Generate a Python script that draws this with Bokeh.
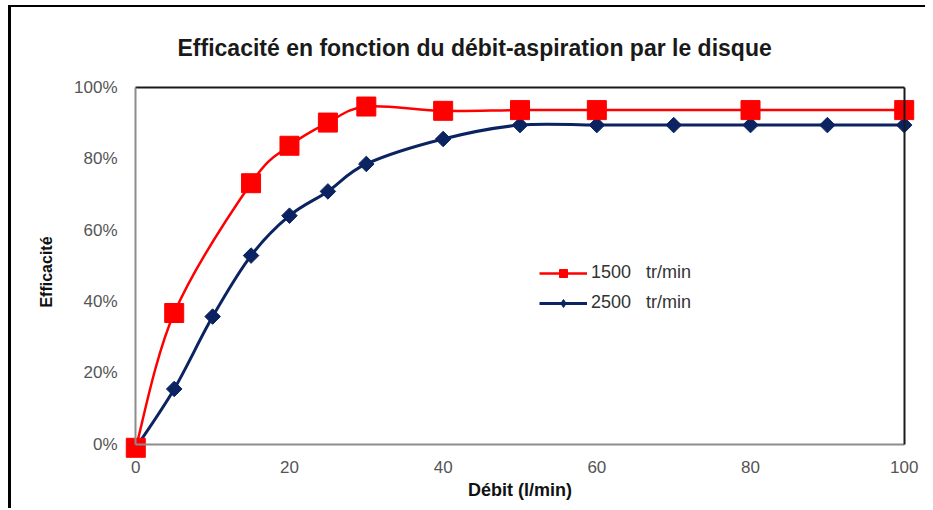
import numpy as np
from bokeh.plotting import figure
from bokeh.models import (Range1d, LinearAxis, FixedTicker, PrintfTickFormatter,
                          Legend, LegendItem, ColumnDataSource)
from bokeh.embed import file_html
from bokeh.resources import INLINE

# ---------------- data ----------------
title_text = "Efficacité en fonction du débit-aspiration par le disque"
x_label = "Débit (l/min)"
y_label = "Efficacité"
x_ticks = [0, 20, 40, 60, 80, 100]
y_ticks = [0, 20, 40, 60, 80, 100]

debit_1500 = [0, 5, 15, 20, 25, 30, 40, 50, 60, 80, 100]
eff_1500 = [-1, 36.8, 73.2, 83.7, 90.2, 94.7, 93.5, 93.7, 93.7, 93.7, 93.7]

debit_2500 = [0, 5, 10, 15, 20, 25, 30, 40, 50, 60, 70, 80, 90, 100]
eff_2500 = [-1, 15.5, 35.8, 52.9, 64.1, 70.9, 78.6, 85.6, 89.5, 89.5, 89.5, 89.5, 89.5, 89.5]

legend_labels = ["1500\u00a0\u00a0\u00a0tr/min", "2500\u00a0\u00a0\u00a0tr/min"]

RED = "#ff0000"
BLUE = "#0b2361"
FONT = "Liberation Sans"


def smooth_segments(xs, ys):
    """Cubic Bezier segments through the points (Catmull-Rom style smoothing)."""
    x = np.asarray(xs, float)
    y = np.asarray(ys, float)
    n = len(x)
    px = np.concatenate([[x[0]], x, [x[-1]]])
    py = np.concatenate([[y[0]], y, [y[-1]]])
    return dict(
        x0=x[:-1], y0=y[:-1], x1=x[1:], y1=y[1:],
        cx0=x[:-1] + (px[2:n + 1] - px[0:n - 1]) / 6.0,
        cy0=y[:-1] + (py[2:n + 1] - py[0:n - 1]) / 6.0,
        cx1=x[1:] - (px[3:n + 2] - px[1:n]) / 6.0,
        cy1=y[1:] - (py[3:n + 2] - py[1:n]) / 6.0,
    )


p = figure(frame_width=793, frame_height=373,
           x_range=Range1d(-1.6, 101.6), y_range=Range1d(-4, 100.6),
           output_backend="svg", toolbar_location=None,
           x_axis_location=None, y_axis_location=None,
           min_border_left=112, min_border_right=9,
           min_border_top=78, min_border_bottom=50,
           background_fill_color="white", border_fill_color="white")
p.styles = {"border-left": "3px solid black", "border-top": "2px solid black",
            "margin-left": "8px", "margin-top": "5px"}
p.outline_line_color = None
p.grid.grid_line_color = None

# title
p.title.text = title_text
p.title.text_font = FONT
p.title.text_font_size = "23px"
p.title.text_font_style = "bold"
p.title.text_color = "#1a1a1a"
p.title.align = "left"
p.title.offset = 54
p.title.standoff = 49

# label axes (at frame edges, no line)
xaxis = LinearAxis(ticker=FixedTicker(ticks=x_ticks), axis_label=x_label)
yaxis = LinearAxis(ticker=FixedTicker(ticks=y_ticks),
                   formatter=PrintfTickFormatter(format="%d%%"), axis_label=y_label)
for ax in (xaxis, yaxis):
    ax.axis_line_color = None
    ax.major_tick_line_color = None
    ax.minor_tick_line_color = None
    ax.major_tick_out = 0
    ax.major_tick_in = 0
    ax.major_label_text_font = FONT
    ax.major_label_text_font_size = "17px"
    ax.major_label_text_color = "#555555"
    ax.axis_label_text_font = FONT
    ax.axis_label_text_font_style = "bold"
    ax.axis_label_text_color = "#111111"
xaxis.major_label_standoff = 2
xaxis.axis_label_standoff = 4
xaxis.axis_label_text_font_size = "18px"
yaxis.major_label_standoff = 6
yaxis.axis_label_standoff = 16
yaxis.axis_label_text_font_size = "16px"
p.add_layout(xaxis, "below")
p.add_layout(yaxis, "left")

# lines of the plot box: grey axes through the origin, black top and right
AX_GRAY = "#8c8c8c"
box = [
    (LinearAxis(fixed_location=y_ticks[0], bounds=(x_ticks[0], x_ticks[-1])), "below", AX_GRAY),
    (LinearAxis(fixed_location=x_ticks[0], bounds=(y_ticks[0], y_ticks[-1])), "left", AX_GRAY),
    (LinearAxis(fixed_location=y_ticks[-1], bounds=(x_ticks[0], x_ticks[-1])), "above", "#1a1a1a"),
    (LinearAxis(fixed_location=x_ticks[-1], bounds=(y_ticks[0], y_ticks[-1])), "right", "#1a1a1a"),
]
for ax, side, col in box:
    ax.ticker = FixedTicker(ticks=[])
    ax.axis_line_color = col
    ax.axis_line_width = 2
    ax.major_tick_line_color = None
    ax.minor_tick_line_color = None
    ax.major_label_text_color = None
    p.add_layout(ax, side)

# smoothed lines
p.bezier(source=ColumnDataSource(smooth_segments(debit_1500, eff_1500)),
         x0="x0", y0="y0", x1="x1", y1="y1", cx0="cx0", cy0="cy0", cx1="cx1", cy1="cy1",
         line_color=RED, line_width=2.5)
p.bezier(source=ColumnDataSource(smooth_segments(debit_2500, eff_2500)),
         x0="x0", y0="y0", x1="x1", y1="y1", cx0="cx0", cy0="cy0", cx1="cx1", cy1="cy1",
         line_color=BLUE, line_width=3)

# markers
p.scatter(debit_2500, eff_2500, marker="square", angle=np.pi / 4, size=11,
          fill_color=BLUE, line_color=BLUE)
p.scatter(debit_1500, eff_1500, marker="square", size=19,
          fill_color=RED, line_color=RED)

# legend (small markers, as in the original); renderers hold no visible point
blank = dict(x=[np.nan], y=[np.nan])
l1 = p.line("x", "y", source=ColumnDataSource(blank), line_color=RED, line_width=2.5)
m1 = p.scatter("x", "y", source=ColumnDataSource(blank), marker="square", size=9,
               fill_color=RED, line_color=RED)
l2 = p.line("x", "y", source=ColumnDataSource(blank), line_color=BLUE, line_width=3)
m2 = p.scatter("x", "y", source=ColumnDataSource(blank), marker="diamond",
               size=10, fill_color=BLUE, line_color=BLUE)
legend = Legend(items=[LegendItem(label=legend_labels[0], renderers=[l1, m1]),
                       LegendItem(label=legend_labels[1], renderers=[l2, m2])],
                location=(416, 145), orientation="vertical",
                padding=0, margin=0, spacing=9,
                glyph_width=48, glyph_height=20, label_height=20, label_standoff=4,
                label_text_font=FONT, label_text_font_size="18px",
                label_text_color="#333333",
                background_fill_alpha=0, border_line_color=None)
p.add_layout(legend, "center")

open("out.html", "w").write(file_html(p, INLINE))
